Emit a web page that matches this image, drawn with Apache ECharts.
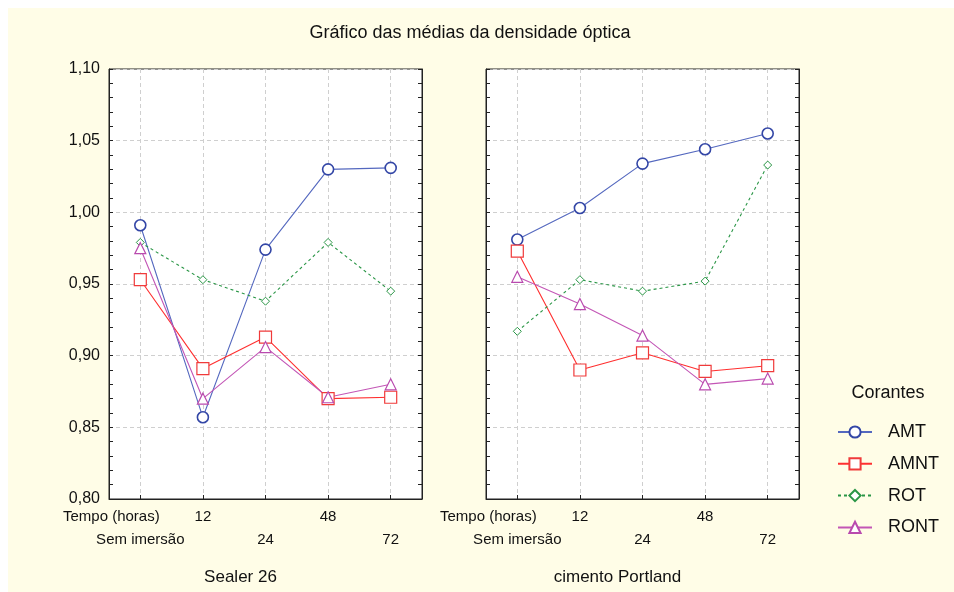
<!DOCTYPE html>
<html>
<head>
<meta charset="utf-8">
<script src="https://cdn.jsdelivr.net/npm/echarts@6/dist/echarts.min.js"></script>
<style>
html,body{margin:0;padding:0;background:#ffffff;}
#chart{width:954px;height:592px;}
</style>
</head>
<body>
<div id="chart"></div>
<script>
// ---- data ----
const chartTitle = 'Gráfico das médias da densidade óptica';
const legendTitle = 'Corantes';
const rowLabel = 'Tempo (horas)';
const categories = ['Sem imersão', '12', '24', '48', '72'];
const panelNames = ['Sealer 26', 'cimento Portland'];
const seriesNames = ['AMT', 'AMNT', 'ROT', 'RONT'];
const yTicks = [0.80, 0.85, 0.90, 0.95, 1.00, 1.05, 1.10];

const sealerAMT  = [0.991, 0.857, 0.974, 1.030, 1.031];
const sealerAMNT = [0.953, 0.891, 0.913, 0.870, 0.871];
const sealerROT  = [0.979, 0.953, 0.938, 0.979, 0.945];
const sealerRONT = [0.975, 0.870, 0.906, 0.871, 0.880];

const portlandAMT  = [0.981, 1.003, 1.034, 1.044, 1.055];
const portlandAMNT = [0.973, 0.890, 0.902, 0.889, 0.893];
const portlandROT  = [0.917, 0.953, 0.945, 0.952, 1.033];
const portlandRONT = [0.955, 0.936, 0.914, 0.880, 0.884];

// ---- styles ----
const FONT = '"Liberation Sans", Arial, sans-serif';
const styles = {
  AMT:  {line: '#5468bf', mark: '#3346a6', symbol: 'circle',   size: 11, bw: 1.6, type: 'solid', lw: 1.1},
  AMNT: {line: '#ff2f2f', mark: '#f03a3a', symbol: 'rect',     size: 12, bw: 1.2, type: 'solid', lw: 1.1},
  ROT:  {line: '#2a9646', mark: '#2a9646', symbol: 'diamond',  size: 8,  bw: 1.0, type: [3, 3], lw: 1.1},
  RONT: {line: '#c356b6', mark: '#b94aae', symbol: 'triangle', size: 11, bw: 1.2, type: 'solid', lw: 1.1}
};
const panelData = [
  {AMT: sealerAMT, AMNT: sealerAMNT, ROT: sealerROT, RONT: sealerRONT},
  {AMT: portlandAMT, AMNT: portlandAMNT, ROT: portlandROT, RONT: portlandRONT}
];

const grids = [
  {left: 109, top: 69, width: 313, height: 430},
  {left: 486, top: 69, width: 313, height: 430}
];

const fmt = v => v.toFixed(2).replace('.', ',');

const xAxes = grids.map((g, i) => ({
  type: 'category',
  gridIndex: i,
  data: categories,
  boundaryGap: true,
  axisLine: {show: true, lineStyle: {color: '#222', width: 1}},
  axisTick: {show: true, inside: true, length: 4, alignWithLabel: true, lineStyle: {color: '#222'}},
  splitLine: {show: true, alignWithLabel: true, lineStyle: {color: '#cfcfcf', type: [4, 3], width: 1}},
  axisLabel: {
    interval: 0, margin: 6, color: '#111', fontFamily: FONT, fontSize: 15,
    formatter: (val, idx) => {
      if (idx === 0) return '{t|' + rowLabel + '}\n{n|' + val + '}';
      if (idx % 2 === 1) return '{n|' + val + '}\n{n| }';
      return '{n| }\n{n|' + val + '}';
    },
    rich: {
      t: {fontFamily: FONT, fontSize: 15, color: '#111', lineHeight: 23, padding: [0, 58, 0, 0]},
      n: {fontFamily: FONT, fontSize: 15, color: '#111', lineHeight: 23}
    }
  },
  name: panelNames[i],
  nameLocation: 'middle',
  nameGap: 70,
  nameTextStyle: {fontFamily: FONT, fontSize: 17, color: '#111', padding: [0, 50, 0, 0]}
}));

const yAxes = [];
grids.forEach((g, i) => {
  ['left', 'right'].forEach(pos => {
    yAxes.push({
      type: 'value',
      gridIndex: i,
      position: pos,
      min: yTicks[0],
      max: yTicks[yTicks.length - 1],
      interval: 0.05,
      axisLine: {show: true, lineStyle: {color: '#222', width: 1}},
      axisTick: {show: true, inside: true, length: 4, lineStyle: {color: '#222'}},
      minorTick: {show: true, splitNumber: 5, length: 4, lineStyle: {color: '#222'}},
      splitLine: {show: pos === 'left', lineStyle: {color: '#cfcfcf', type: [4, 3], width: 1}},
      axisLabel: {
        show: (i === 0 && pos === 'left'), margin: 9, color: '#111',
        fontFamily: FONT, fontSize: 16, formatter: fmt
      }
    });
  });
});

const series = [];
panelData.forEach((pd, i) => {
  seriesNames.forEach(name => {
    const s = styles[name];
    series.push({
      name: name,
      type: 'line',
      xAxisIndex: i,
      yAxisIndex: i * 2,
      data: pd[name],
      symbol: s.symbol,
      symbolSize: s.size,
      showAllSymbol: true,
      color: s.line,
      lineStyle: {color: s.line, width: s.lw, type: s.type},
      itemStyle: {color: '#ffffff', borderColor: s.mark, borderWidth: s.bw},
      emphasis: {disabled: true},
      animation: false
    });
  });
});

const chart = echarts.init(document.getElementById('chart'), null, {renderer: 'canvas'});
chart.setOption({
  animation: false,
  backgroundColor: '#ffffff',
  graphic: [{
    type: 'rect', z: -100, silent: true,
    shape: {x: 8, y: 8, width: 946, height: 584},
    style: {fill: '#fffde7'}
  }],
  title: [
    {text: chartTitle, left: 470, top: 24, textAlign: 'center', padding: 0,
     textStyle: {fontFamily: FONT, fontSize: 18, fontWeight: 'normal', color: '#111'}},
    {text: legendTitle, left: 888, top: 384, textAlign: 'center', padding: 0,
     textStyle: {fontFamily: FONT, fontSize: 18, fontWeight: 'normal', color: '#111'}}
  ],
  legend: {
    data: seriesNames,
    orient: 'vertical',
    left: 837, top: 423,
    padding: 0,
    itemWidth: 34, itemHeight: 14, itemGap: 13.8,
    textStyle: {fontFamily: FONT, fontSize: 18, color: '#111', lineHeight: 14, padding: [0, 0, 0, 11]}
  },
  grid: grids.map(g => Object.assign({show: true, backgroundColor: '#ffffff', borderColor: '#222', borderWidth: 1}, g)),
  xAxis: xAxes,
  yAxis: yAxes,
  series: series
});
</script>
</body>
</html>
